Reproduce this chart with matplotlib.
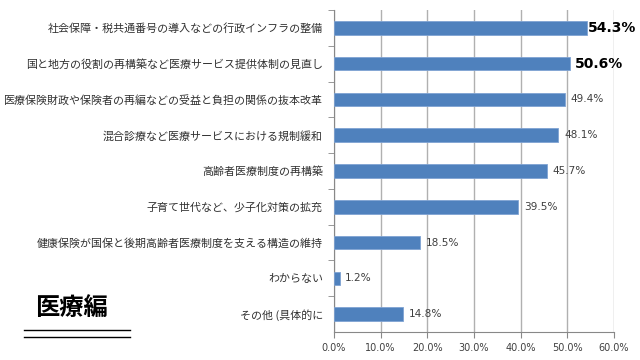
import matplotlib
matplotlib.use('Agg')
import matplotlib.pyplot as plt
from matplotlib.lines import Line2D

plt.rcParams['font.family'] = ['Noto Sans CJK JP', 'DejaVu Sans']

# データ
labels = ['社会保障・税共通番号の導入などの行政インフラの整備',
          '国と地方の役割の再構築など医療サービス提供体制の見直し',
          '医療保険財政や保険者の再編などの受益と負担の関係の抜本改革',
          '混合診療など医療サービスにおける規制緩和',
          '高齢者医療制度の再構築',
          '子育て世代など、少子化対策の拡充',
          '健康保険が国保と後期高齢者医療制度を支える構造の維持',
          'わからない',
          'その他 (具体的に']
values = [54.3, 50.6, 49.4, 48.1, 45.7, 39.5, 18.5, 1.2, 14.8]
xticks = [0, 10, 20, 30, 40, 50, 60]

fig = plt.figure(figsize=(6.4, 3.6), dpi=100)
ax = fig.add_axes([334/640, 1-332/360, 280/640, 322/360])

n = len(values)
ypos = list(range(n))[::-1]
ax.barh(ypos, values, height=0.38, color='#4F81BD', edgecolor='#7FA3D3', linewidth=0.6, zorder=3)

for i, v in enumerate(values):
    if i == 0:
        ax.text(v + 0.1, ypos[i], '%.1f%%' % v, va='center', ha='left', fontsize=10,
                fontweight='bold', color='black', family='DejaVu Sans')
    elif i == 1:
        ax.text(v + 1.0, ypos[i], '%.1f%%' % v, va='center', ha='left', fontsize=10,
                fontweight='bold', color='black', family='DejaVu Sans')
    else:
        ax.text(v + 1.2, ypos[i], '%.1f%%' % v, va='center', ha='left', fontsize=7.6,
                color='#404040', family='DejaVu Sans')

ax.set_xlim(0, 60)
ax.set_ylim(-0.5, n - 0.5)
ax.set_xticks(xticks)
ax.set_xticklabels(['%.1f%%' % t for t in xticks], fontsize=7, color='#404040', family='DejaVu Sans')
ax.set_yticks(ypos)
ax.set_yticklabels(labels, fontsize=7.9, color='#303030')
ax.set_yticks([y + 0.5 for y in range(n)], minor=True)
ax.tick_params(axis='y', which='major', length=0, pad=8)
ax.tick_params(axis='y', which='minor', length=4, color='#888888')
ax.tick_params(axis='x', length=4, color='#888888', pad=4)

ax.grid(axis='x', color='#B0B0B0', linewidth=1, zorder=0)
for s in ['top', 'right']:
    ax.spines[s].set_visible(False)
ax.spines['left'].set_color('#888888')
ax.spines['bottom'].set_color('#888888')

# タイトル
fig.text(35/640, 1-308/360, '医療編', fontsize=17.5, fontweight='bold', va='center', ha='left')
fig.add_artist(Line2D([24/640, 130/640], [1-330/360, 1-330/360], color='black', lw=1))
fig.add_artist(Line2D([24/640, 130/640], [1-337/360, 1-337/360], color='black', lw=1))

fig.savefig('out.png', dpi=100)
